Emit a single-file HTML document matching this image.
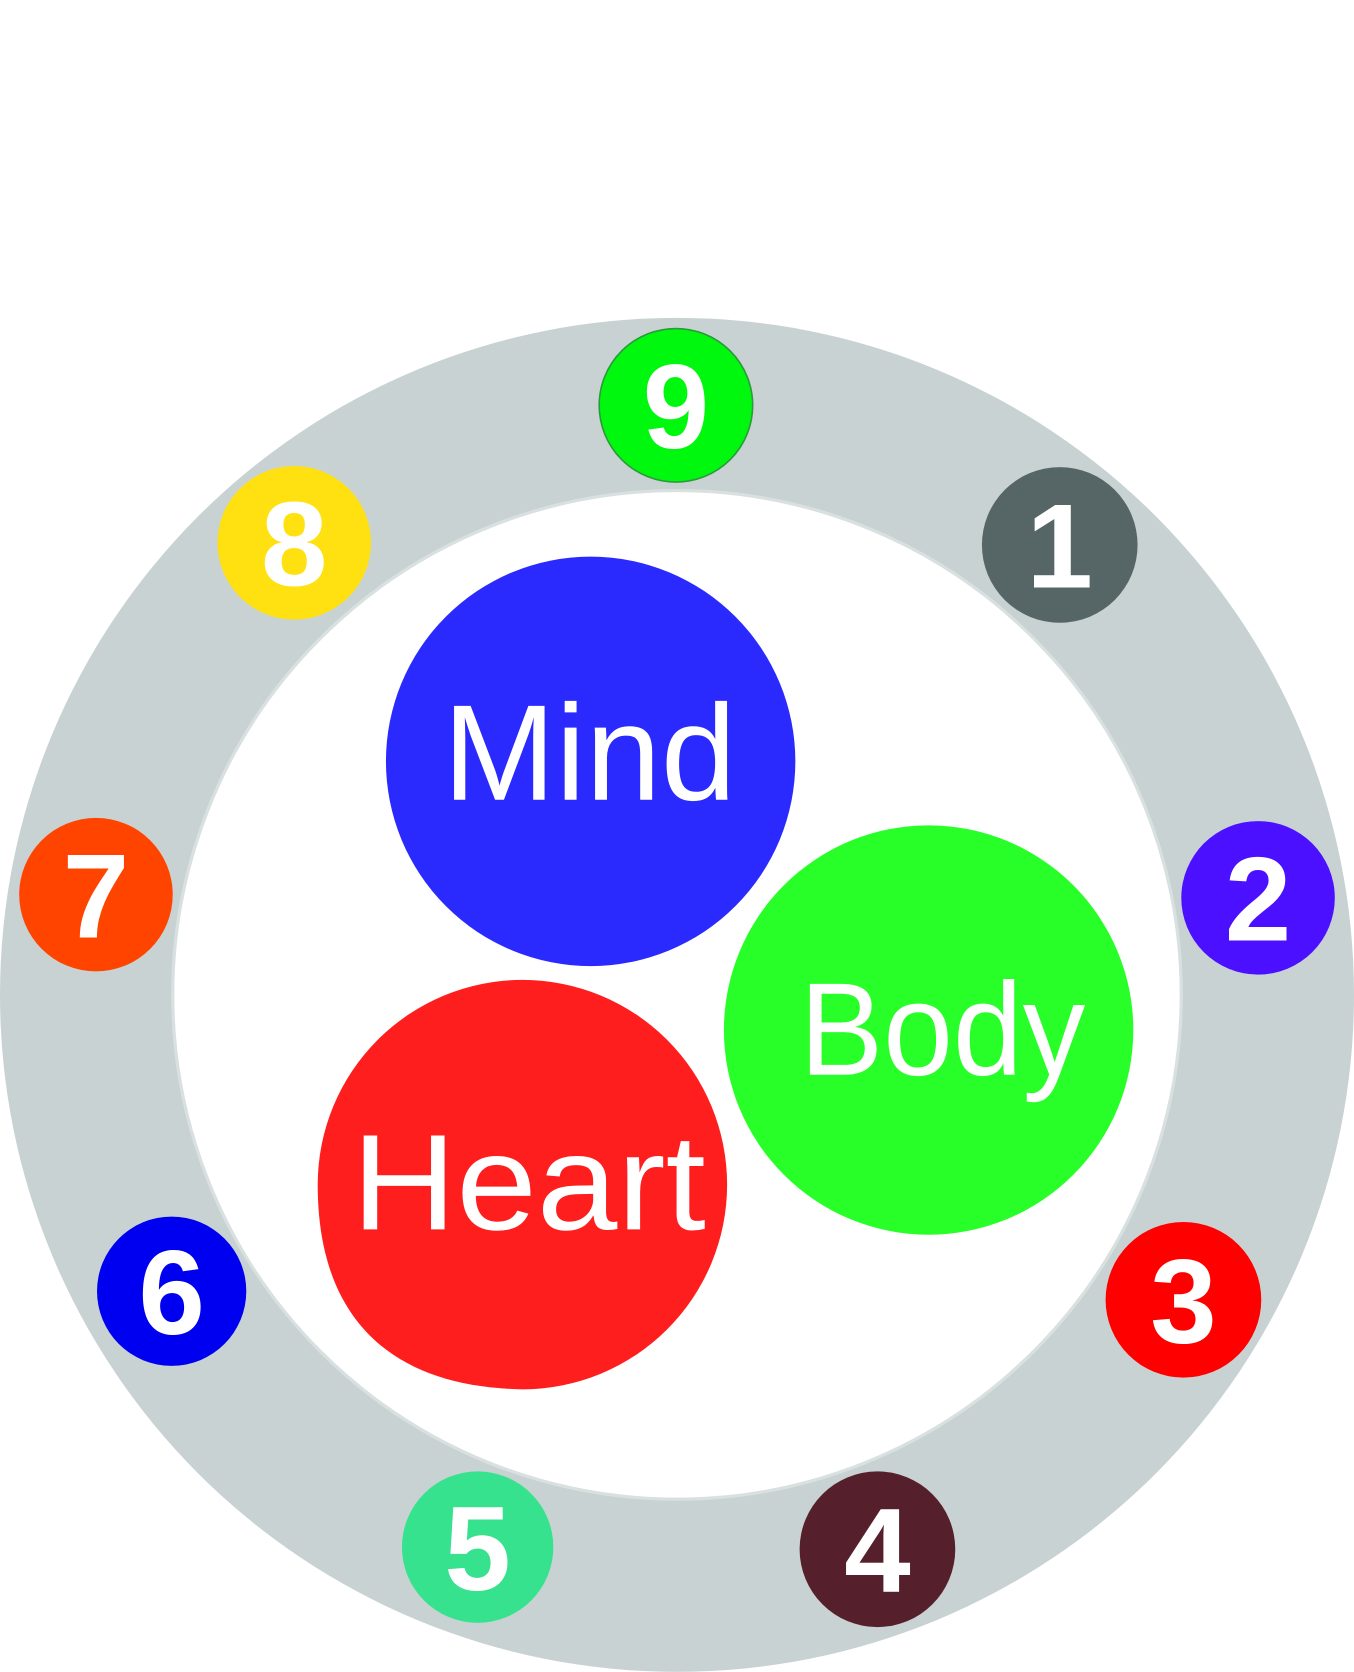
<!DOCTYPE html>
<html><head><meta charset="utf-8"><style>
html,body{margin:0;padding:0;background:#fff;}
svg{display:block;}
text{font-family:"Liberation Sans",sans-serif;fill:#fff;text-anchor:middle;}
</style></head><body>
<svg width="1354" height="1672" viewBox="0 0 1270 1568" xmlns="http://www.w3.org/2000/svg">
<rect width="1270" height="1568" fill="#fff"/>
<circle cx="635" cy="933" r="635" fill="#c8d2d2"/>
<circle cx="635" cy="933" r="473" fill="#fff" stroke="#d9e0e0" stroke-width="3"/>
<circle cx="634" cy="380" r="72" fill="#00f80e" stroke="#2a9a3a" stroke-width="1.5"/>
<circle cx="994" cy="511" r="73" fill="#566565"/>
<circle cx="1180" cy="842" r="72" fill="#4a10ff"/>
<circle cx="1110" cy="1219" r="73" fill="#ff0000"/>
<circle cx="823" cy="1453" r="73" fill="#55202b"/>
<circle cx="448" cy="1451" r="71" fill="#37e28f"/>
<circle cx="161" cy="1211" r="70" fill="#0000f0"/>
<circle cx="90" cy="839" r="72" fill="#ff4400"/>
<circle cx="276" cy="509" r="72" fill="#ffe010"/>
<g font-weight="600" font-size="112">
<text x="634" y="420">9</text>
<text x="994" y="551">1</text>
<text x="1180" y="882">2</text>
<text x="1110" y="1259">3</text>
<text x="823" y="1493">4</text>
<text x="448" y="1491">5</text>
<text x="161" y="1251">6</text>
<text x="90" y="879">7</text>
<text x="276" y="549">8</text>
</g>
<circle cx="554" cy="714" r="192" fill="#2a2aff"/>
<circle cx="871" cy="966" r="192" fill="#28ff28"/>
<path d="M298,1111 A192,192 0 1,1 490,1303 C370,1301 298,1240 298,1111 Z" fill="#ff1e1e"/>
<text x="553" y="750" font-size="128" textLength="275" lengthAdjust="spacingAndGlyphs">Mind</text>
<text x="884" y="1008" font-size="124" textLength="268" lengthAdjust="spacingAndGlyphs">Body</text>
<text x="496" y="1153" font-size="128" textLength="332" lengthAdjust="spacingAndGlyphs">Heart</text>
</svg>
</body></html>
